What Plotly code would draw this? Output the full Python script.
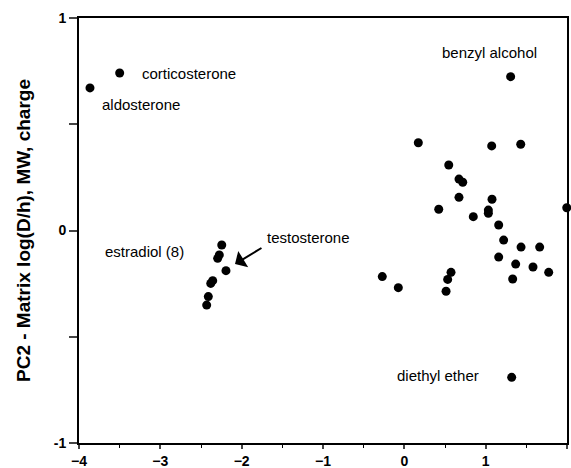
import plotly.graph_objects as go

# Data (PC1, PC2)
steroid_x = [-3.865, -3.50]
steroid_y = [0.671, 0.741]

estradiol_x = [-2.245, -2.275, -2.295, -2.193, -2.356, -2.38, -2.41, -2.43]
estradiol_y = [-0.068, -0.115, -0.131, -0.189, -0.236, -0.249, -0.311, -0.351]

other_x = [1.307, 1.32, 0.172, 1.074, 1.431, 0.546, 0.672, 0.718, 0.672, 1.078, 1.997,
           0.423, 0.848, 1.033, 1.033, 1.16, 1.221, 1.435, 1.664, 1.16, 1.369, 1.582,
           1.775, 1.332, -0.271, -0.074, 0.574, 0.533, 0.513]
other_y = [0.724, -0.691, 0.413, 0.398, 0.406, 0.308, 0.242, 0.227, 0.156, 0.147, 0.107,
           0.100, 0.065, 0.096, 0.081, 0.026, -0.045, -0.078, -0.078, -0.125, -0.158, -0.172,
           -0.197, -0.228, -0.217, -0.269, -0.197, -0.23, -0.286]

labels = ["corticosterone", "aldosterone", "benzyl alcohol", "estradiol (8)", "testosterone", "diethyl ether"]
label_x = [-3.25, -3.742, 0.439, -3.705, -1.713, -0.115]
label_y = [0.741, 0.591, 0.84, -0.101, -0.035, -0.68]

x_ticks = [-4, -3, -2, -1, 0, 1, 2]
y_ticks = [-1, -0.5, 0, 0.5, 1]
y_ticktext = ["-1", "", "0", "", "1"]

mk = dict(color="black", size=9)
fig = go.Figure()
for xs, ys in [(steroid_x, steroid_y), (estradiol_x, estradiol_y), (other_x, other_y)]:
    fig.add_trace(go.Scatter(x=xs, y=ys, mode="markers", marker=mk, showlegend=False, cliponaxis=False))

for t, x, y in zip(labels, label_x, label_y):
    fig.add_annotation(x=x, y=y, text=t, showarrow=False, xanchor="left", yanchor="middle",
                       font=dict(family="Liberation Sans, Arial", size=15, color="black"))

fig.add_annotation(x=-2.082, y=-0.158, ax=-1.738, ay=-0.078, axref="x", ayref="y",
                   text="", showarrow=True, arrowhead=1, arrowsize=1.6, arrowwidth=2, arrowcolor="black")

fig.update_layout(
    width=571, height=468,
    margin=dict(l=79, r=4, t=18, b=25),
    plot_bgcolor="white", paper_bgcolor="white",
    font=dict(family="Liberation Sans, Arial", size=13, color="black"),
)
fig.update_xaxes(range=[-4, 2], tickvals=x_ticks, ticks="outside", ticklen=4, tickwidth=1.5,
                 showline=True, linewidth=2, linecolor="black", mirror=True,
                 showgrid=False, zeroline=False, automargin=False,
                 minor=dict(dtick=0.5, ticks="outside", ticklen=3, tickwidth=1.2, tickcolor="black"),
                 tickfont=dict(size=14, family="Liberation Sans, Arial", weight="bold"))
fig.update_yaxes(range=[-1, 1], tickvals=y_ticks, ticktext=y_ticktext, ticks="outside", ticklen=8,
                 tickwidth=1.5, showline=True, linewidth=2, linecolor="black", mirror=True,
                 showgrid=False, zeroline=False, automargin=False,
                 tickfont=dict(size=14, weight="bold"),
                 title=dict(text="<b>PC2 - Matrix log(D/h), MW, charge</b>", font=dict(size=19), standoff=18))

fig.write_html("out.html")
